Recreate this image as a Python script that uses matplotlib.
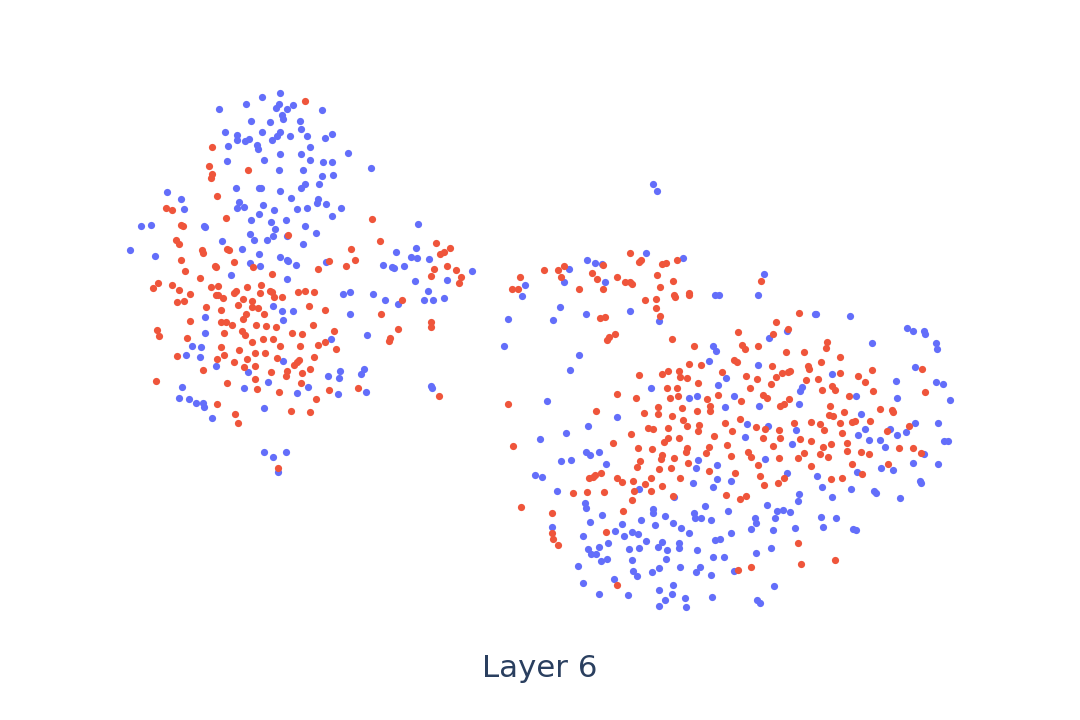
import matplotlib
matplotlib.use('Agg')
import matplotlib.pyplot as plt

# point positions
blue_x = [262, 280, 246, 279, 276, 287, 293, 219, 322, 282, 283, 251, 270, 300, 301, 225, 237, 237, 249, 245,
          262, 280, 277, 272, 290, 307, 325, 332, 228, 257, 258, 310, 280, 301, 348, 227, 264, 310, 323, 332,
          279, 303, 371, 322, 333, 305, 319, 236, 259, 261, 301, 280, 167, 181, 291, 318, 317, 326, 239, 237,
          244, 263, 274, 297, 307, 341, 184, 259, 332, 251, 286, 271, 141, 151, 204, 205, 305, 418, 275, 316,
          250, 273, 287, 254, 267, 222, 303, 130, 242, 155, 259, 280, 287, 288, 296, 250, 260, 326, 396, 416,
          411, 417, 429, 383, 392, 394, 404, 472, 231, 447, 415, 287,
          343, 350, 373, 385, 398, 428, 424, 433, 444, 273, 282, 293, 205, 283, 350, 205, 367, 331, 192, 201,
          186, 200, 283, 216, 248, 340, 364, 361, 328, 339, 182, 244, 268, 308, 297, 338, 366, 431, 432, 179,
          189, 196, 203, 204, 212, 264, 264, 273, 286, 278,
          653, 657, 646, 683, 587, 595, 602, 569, 525, 522, 564, 605, 715, 719, 560, 508, 553, 586, 630, 659,
          504, 579, 570, 713, 716, 709, 726, 718, 651, 689, 697, 547, 725,
          617, 588, 566, 540, 586, 590, 599, 561, 571, 606, 698, 717, 696, 535, 542, 717, 693, 713, 731, 639,
          557, 674, 585, 586, 705, 653, 653, 728, 602, 694, 695, 701, 711, 665, 641, 590, 622, 655, 673, 681,
          689, 552, 615, 632, 638, 624, 583, 646, 662, 679, 608, 599, 588, 629, 639, 658, 667, 679, 697, 715,
          720, 731, 591, 596, 601, 607, 632, 666, 713, 724, 578, 633, 637, 652, 659, 680, 700, 696, 711, 583,
          614, 673, 659, 672, 599, 628, 665, 685, 712, 659, 686,
          764, 758, 815, 816, 850, 907, 913, 924, 925, 936, 937, 872, 769, 787, 915, 758, 832, 896, 936, 943,
          802, 800, 734, 856, 897, 950, 759, 799, 861, 747, 768, 796, 865, 890, 915, 938, 906, 897, 858, 745,
          869, 880, 944, 948,
          792, 885, 765, 924, 913, 938, 881, 893, 857, 787, 817, 822, 851, 920, 921, 874, 876, 799, 798, 832,
          900, 767, 777, 783, 790, 755, 756, 775, 821, 836, 823, 751, 773, 795, 853, 856, 771, 756, 734, 774,
          757, 760]
blue_y = [97, 93, 104, 104, 108, 109, 105, 109, 110, 115, 119, 121, 122, 121, 129, 132, 135, 140, 139, 141,
          132, 132, 136, 140, 136, 136, 138, 134, 146, 145, 149, 147, 154, 154, 153, 161, 160, 160, 162, 162,
          170, 170, 168, 176, 175, 184, 184, 188, 188, 188, 188, 191, 192, 199, 198, 199, 203, 204, 202, 208,
          207, 205, 210, 209, 208, 208, 209, 214, 216, 220, 220, 222, 226, 225, 226, 227, 226, 224, 229, 233,
          234, 236, 236, 240, 240, 241, 244, 250, 249, 256, 254, 257, 260, 261, 265, 263, 266, 262, 252, 248,
          257, 258, 259, 265, 267, 268, 266, 271, 275, 280, 281, 279,
          294, 292, 294, 300, 304, 291, 300, 300, 298, 306, 311, 311, 317, 320, 314, 333, 335, 339, 346, 347,
          355, 357, 361, 366, 372, 371, 369, 374, 376, 378, 387, 388, 382, 387, 393, 394, 392, 386, 388, 398,
          399, 403, 403, 407, 418, 408, 452, 457, 452, 472,
          184, 191, 253, 258, 260, 263, 264, 269, 285, 296, 282, 282, 295, 295, 307, 319, 320, 314, 311, 321,
          346, 355, 370, 346, 351, 361, 378, 385, 388, 398, 396, 401, 407,
          417, 426, 433, 439, 452, 455, 452, 461, 460, 464, 460, 465, 468, 475, 477, 479, 483, 487, 481, 489,
          491, 497, 503, 508, 506, 509, 513, 511, 515, 513, 518, 518, 520, 516, 520, 522, 524, 525, 523, 528,
          533, 527, 531, 532, 534, 536, 536, 541, 542, 543, 543, 547, 549, 549, 548, 547, 550, 548, 550, 540,
          539, 533, 554, 554, 561, 559, 560, 559, 557, 557, 566, 571, 576, 572, 568, 567, 567, 572, 575, 583,
          579, 585, 590, 594, 594, 595, 600, 598, 597, 606, 607,
          274, 295, 314, 314, 316, 328, 331, 331, 334, 343, 349, 343, 338, 331, 367, 365, 374, 381, 382, 384,
          387, 391, 396, 396, 398, 400, 406, 404, 414, 424, 426, 430, 429, 429, 423, 423, 432, 435, 435, 437,
          440, 440, 441, 441,
          444, 447, 459, 454, 463, 464, 468, 470, 472, 473, 476, 487, 489, 481, 483, 491, 493, 494, 501, 497,
          498, 505, 511, 510, 512, 518, 523, 518, 517, 518, 527, 529, 530, 528, 529, 530, 548, 553, 571, 586,
          600, 603]

red_x = [305, 212, 209, 212, 211, 248, 217, 166, 172, 226, 372, 181, 183, 176, 179, 288, 380, 436, 450, 444,
         440, 351, 355, 346, 202, 203, 227, 229, 181, 185, 215, 216, 234, 253, 329, 318, 272, 200, 447, 434,
         456, 431, 461, 459,
         158, 153, 172, 179, 190, 177, 184, 211, 218, 216, 218, 223, 236, 234, 247, 261, 260, 270, 272, 274,
         282, 298, 305, 314, 243, 252, 238, 252, 258, 206, 221, 246, 243, 264, 309, 325, 402, 381, 190, 221,
         226, 232, 256, 266, 276, 313, 431, 431, 157, 159, 187, 224, 242, 245, 292, 302, 334, 398, 390, 389,
         263, 273, 252, 280, 300, 318, 325, 336, 221, 239, 255, 265, 177, 224, 217, 234, 247, 277, 314, 299,
         297, 294, 244, 255, 203, 271, 287, 286, 302, 310, 255, 156, 227, 301, 257, 279, 329, 358, 316, 439,
         217, 235, 291, 310, 238, 278,
         630, 641, 639, 666, 662, 677, 603, 564, 558, 544, 520, 512, 518, 561, 592, 597, 617, 625, 630, 632,
         579, 603, 657, 673, 660, 645, 656, 674, 675, 689, 689, 656, 660, 600, 605, 615, 609, 607, 672, 694,
         689, 701, 722, 679, 668, 662, 639, 680, 687, 698, 667, 677, 617, 636, 670, 678, 707, 718, 508, 658,
         710, 682,
         596, 644, 658, 672, 697, 710, 683, 687, 699, 725, 648, 653, 668, 698, 631, 714, 668, 679, 664, 613,
         727, 513, 638, 652, 687, 686, 709, 706, 731, 662, 661, 674, 640, 637, 688, 659, 671, 709, 601, 595,
         593, 589, 617, 622, 633, 651, 680, 645, 662, 634, 651, 573, 587, 604, 673, 726, 632, 521, 623, 552,
         552, 553, 558, 606, 617,
         761, 799, 776, 738, 788, 773, 827, 826, 742, 745, 758, 786, 804, 840, 734, 737, 821, 808, 809, 772,
         922, 872, 840, 858, 782, 788, 790, 746, 757, 776, 806, 818, 865, 771, 750, 832, 822, 835, 873, 925,
         849, 763, 767, 741, 789, 784, 780, 830, 829, 833, 844, 880, 892, 893, 870, 855, 852, 840, 811, 820,
         794, 740, 756, 732, 765, 779, 824, 842, 887, 909, 763, 780, 800, 811,
         773, 823, 831, 847, 847, 861, 869, 899, 913, 921, 748, 751, 779, 798, 804, 820, 828, 758, 811, 852,
         888, 862, 735, 760, 784, 778, 764, 831, 842, 746, 740, 798, 801, 835, 751, 738]
red_y = [101, 147, 166, 174, 178, 170, 196, 208, 210, 218, 219, 225, 226, 240, 244, 235, 241, 243, 248, 252,
         254, 249, 260, 266, 250, 253, 249, 250, 260, 271, 266, 267, 262, 267, 261, 269, 274, 278, 266, 269,
         270, 276, 277, 283,
         283, 288, 285, 290, 294, 302, 301, 287, 286, 295, 295, 298, 291, 293, 287, 285, 293, 291, 292, 297,
         297, 292, 291, 292, 299, 301, 305, 307, 308, 307, 310, 314, 319, 314, 306, 310, 300, 314, 321, 322,
         322, 325, 325, 326, 327, 325, 322, 327, 330, 336, 338, 333, 331, 335, 333, 334, 331, 329, 338, 341,
         339, 339, 342, 346, 346, 345, 342, 349, 347, 350, 353, 353, 356, 355, 359, 362, 359, 358, 357, 360,
         362, 365, 367, 366, 370, 372, 371, 376, 373, 369, 379, 381, 383, 383, 389, 392, 390, 388, 399, 396,
         404, 414, 411, 412, 423, 468,
         253, 260, 262, 263, 264, 260, 265, 266, 270, 270, 277, 289, 289, 277, 273, 279, 277, 282, 282, 284,
         289, 289, 275, 281, 287, 300, 299, 295, 297, 293, 295, 308, 316, 318, 317, 334, 337, 340, 339, 346,
         364, 365, 372, 371, 371, 374, 375, 377, 378, 383, 388, 388, 394, 398, 398, 396, 399, 395, 404, 407,
         406, 408,
         411, 413, 414, 416, 411, 411, 420, 426, 425, 423, 428, 429, 428, 431, 434, 436, 438, 438, 442, 443,
         445, 446, 448, 449, 448, 452, 447, 453, 456, 455, 459, 458, 461, 467, 463, 469, 468, 471, 473, 475,
         477, 478, 478, 482, 481, 478, 478, 484, 486, 491, 491, 493, 492, 492, 496, 495, 500, 507, 511, 513,
         533, 539, 545, 532, 585,
         281, 313, 322, 332, 329, 334, 342, 348, 345, 349, 346, 352, 352, 357, 360, 362, 362, 366, 369, 366,
         369, 370, 373, 376, 373, 372, 371, 376, 379, 377, 380, 379, 382, 384, 388, 386, 390, 390, 391, 392,
         396, 395, 398, 401, 399, 404, 406, 406, 415, 416, 412, 409, 410, 412, 421, 421, 422, 423, 422, 424,
         423, 419, 427, 431, 429, 430, 430, 433, 431, 426, 438, 438, 439, 441,
         446, 447, 444, 443, 451, 452, 454, 448, 448, 453, 452, 457, 458, 458, 453, 454, 457, 465, 466, 464,
         464, 474, 473, 476, 478, 483, 485, 479, 478, 496, 499, 543, 564, 560, 567, 570]

title = 'Layer 6'

fig = plt.figure(figsize=(10.8, 7.2), dpi=100)
fig.patch.set_facecolor('white')
ax = fig.add_axes([0, 0, 1, 1])
ax.set_xlim(0.4, 1080.4)
ax.set_ylim(720.4, 0.4)
ax.axis('off')

ax.scatter(blue_x, blue_y, s=27, color='#636efa', linewidths=0)
ax.scatter(red_x, red_y, s=27, color='#ef553b', linewidths=0)

ax.text(540.4, 677.6, title, fontsize=22.2, color='#2a3f5f', ha='center', va='baseline')

fig.savefig('out.png', dpi=100)
